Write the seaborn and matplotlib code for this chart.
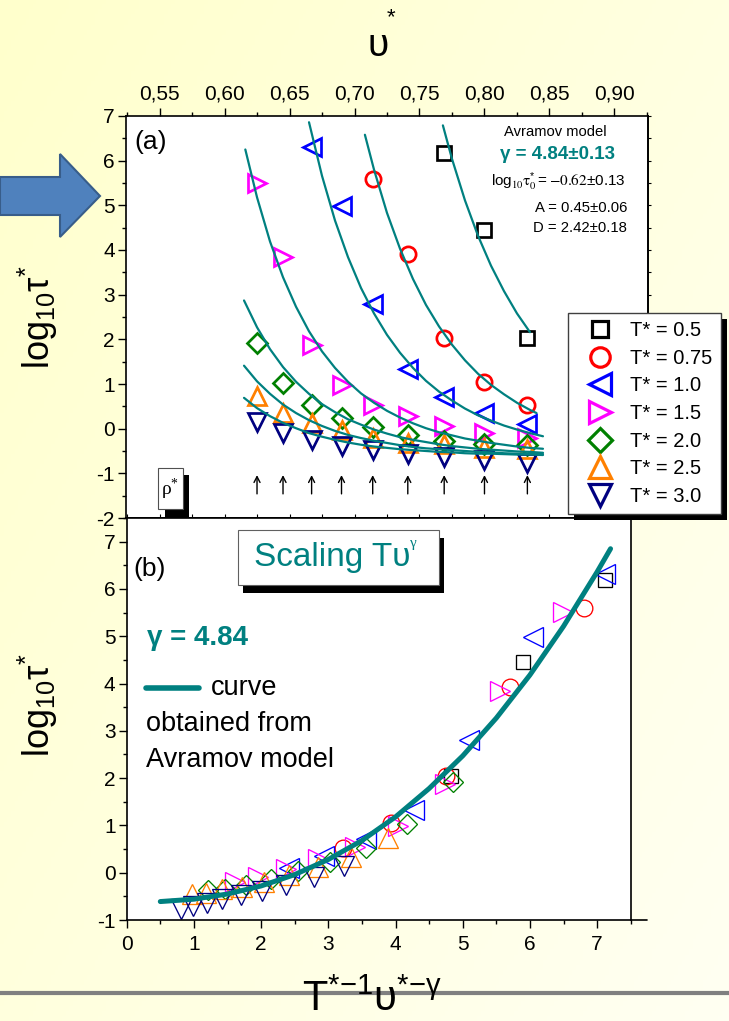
import numpy as np
import pandas as pd
import matplotlib
matplotlib.use("Agg")
import matplotlib.pyplot as plt
from matplotlib.lines import Line2D
from matplotlib.patches import Rectangle, Polygon
from matplotlib.ticker import MultipleLocator
import seaborn as sns

nan = np.nan

# ---------------- data ----------------
legend_labels = ["T* = 0.5", "T* = 0.75", "T* = 1.0", "T* = 1.5", "T* = 2.0", "T* = 2.5", "T* = 3.0"]
series_colors = ["#000000", "#FF0000", "#0000FF", "#FF00FF", "#008000", "#FF8000", "#000080"]
series_markers = ["s", "o", "<", ">", "D", "^", "v"]

# specific volume (top axis of panel a)
upsilon = [0.625, 0.645, 0.667, 0.690, 0.714, 0.741, 0.769, 0.800, 0.833]

# log10 tau* for each temperature (same values in both panels)
tau_T05 = [nan, nan, nan, nan, nan, nan, 6.18, 4.45, 2.04]
tau_T075 = [nan, nan, nan, nan, 5.60, 3.92, 2.04, 1.05, 0.52]
tau_T10 = [nan, nan, 6.31, 4.99, 2.80, 1.33, 0.71, 0.36, 0.10]
tau_T15 = [5.51, 3.84, 1.87, 0.98, 0.54, 0.28, 0.07, -0.09, -0.20]
tau_T20 = [1.92, 1.03, 0.53, 0.23, 0.04, -0.14, -0.27, -0.35, -0.37]
tau_T25 = [0.73, 0.34, 0.13, -0.04, -0.20, -0.31, -0.35, -0.43, -0.45]
tau_T30 = [0.15, -0.09, -0.25, -0.39, -0.48, -0.56, -0.64, -0.70, -0.76]

# scaling variable T*^-1 v*^-gamma (panel b x values)
scaled_T05 = [nan, nan, nan, nan, nan, nan, 7.12, 5.89, 4.83]
scaled_T075 = [nan, nan, nan, nan, 6.80, 5.70, 4.75, 3.93, 3.22]
scaled_T10 = [nan, nan, 7.12, 6.04, 5.10, 4.27, 3.56, 2.94, 2.42]
scaled_T15 = [6.49, 5.56, 4.74, 4.03, 3.40, 2.85, 2.37, 1.96, 1.61]
scaled_T20 = [4.86, 4.17, 3.56, 3.02, 2.55, 2.14, 1.78, 1.47, 1.21]
scaled_T25 = [3.89, 3.34, 2.85, 2.42, 2.04, 1.71, 1.42, 1.18, 0.97]
scaled_T30 = [3.24, 2.78, 2.37, 2.01, 1.70, 1.42, 1.19, 0.98, 0.81]

# Avramov model curves, panel (a)
fit_v_T05 = [0.768, 0.775, 0.785, 0.795, 0.805, 0.815, 0.825, 0.835]
fit_y_T05 = [6.79, 6.04, 5.11, 4.32, 3.65, 3.08, 2.58, 2.16]
fit_v_T075 = [0.708, 0.715, 0.725, 0.735, 0.745, 0.755, 0.765, 0.775, 0.785, 0.795,
              0.805, 0.815, 0.825, 0.835, 0.840]
fit_y_T075 = [6.58, 5.80, 4.83, 4.03, 3.35, 2.77, 2.29, 1.88, 1.53, 1.23,
              0.98, 0.77, 0.58, 0.42, 0.35]
fit_v_T10 = [0.665, 0.675, 0.685, 0.695, 0.705, 0.715, 0.725, 0.735, 0.745, 0.755,
             0.765, 0.775, 0.785, 0.795, 0.805, 0.815, 0.825, 0.835, 0.845]
fit_y_T10 = [6.86, 5.66, 4.66, 3.84, 3.15, 2.58, 2.10, 1.70, 1.36, 1.07,
             0.83, 0.63, 0.45, 0.30, 0.18, 0.07, -0.02, -0.10, -0.17]
fit_v_T15 = [0.616, 0.625, 0.635, 0.645, 0.655, 0.665, 0.675, 0.685, 0.695, 0.705,
             0.715, 0.725, 0.735, 0.745, 0.755, 0.765, 0.775, 0.785, 0.795, 0.805,
             0.815, 0.825, 0.835, 0.845]
fit_y_T15 = [6.25, 5.18, 4.19, 3.39, 2.73, 2.18, 1.73, 1.36, 1.05, 0.79,
             0.58, 0.40, 0.25, 0.12, 0.01, -0.08, -0.15, -0.22, -0.27, -0.32,
             -0.36, -0.40, -0.43, -0.45]
fit_v_low = [0.615, 0.625, 0.635, 0.645, 0.655, 0.665, 0.675, 0.685, 0.695, 0.705,
             0.715, 0.725, 0.735, 0.745, 0.755, 0.765, 0.775, 0.785, 0.795, 0.805,
             0.815, 0.825, 0.835, 0.845]
fit_y_T20 = [2.87, 2.27, 1.78, 1.38, 1.05, 0.78, 0.55, 0.37, 0.21, 0.09,
             -0.02, -0.11, -0.19, -0.25, -0.30, -0.35, -0.39, -0.42, -0.45, -0.47,
             -0.49, -0.51, -0.52, -0.54]
fit_y_T25 = [1.41, 1.06, 0.78, 0.54, 0.35, 0.19, 0.06, -0.05, -0.14, -0.21,
             -0.27, -0.32, -0.37, -0.41, -0.44, -0.46, -0.48, -0.50, -0.52, -0.53,
             -0.55, -0.56, -0.56, -0.57]
fit_y_T30 = [0.69, 0.46, 0.28, 0.13, 0.01, -0.10, -0.18, -0.25, -0.31, -0.36,
             -0.40, -0.43, -0.46, -0.48, -0.50, -0.52, -0.53, -0.55, -0.56, -0.56,
             -0.57, -0.58, -0.58, -0.59]

# master curve, panel (b)
master_x = [0.5, 1.0, 1.5, 2.0, 2.5, 3.0, 3.5, 4.0, 4.5, 5.0, 5.5, 6.0, 6.5, 7.0, 7.2]
master_y = [-0.61, -0.56, -0.45, -0.28, -0.04, 0.28, 0.68, 1.18, 1.78, 2.47, 3.27, 4.18, 5.21, 6.36, 6.85]

top_ticks = [0.55, 0.60, 0.65, 0.70, 0.75, 0.80, 0.85, 0.90]
top_tick_labels = ["0,55", "0,60", "0,65", "0,70", "0,75", "0,80", "0,85", "0,90"]

series_tau = [tau_T05, tau_T075, tau_T10, tau_T15, tau_T20, tau_T25, tau_T30]
series_scaled = [scaled_T05, scaled_T075, scaled_T10, scaled_T15, scaled_T20, scaled_T25, scaled_T30]
fit_v = [fit_v_T05, fit_v_T075, fit_v_T10, fit_v_T15, fit_v_low, fit_v_low, fit_v_low]
fit_y = [fit_y_T05, fit_y_T075, fit_y_T10, fit_y_T15, fit_y_T20, fit_y_T25, fit_y_T30]

# ---------------- style ----------------
sns.set_theme(style="ticks")
plt.rcParams["font.family"] = ["Liberation Sans", "DejaVu Sans"]
plt.rcParams["mathtext.default"] = "regular"
plt.rcParams["axes.unicode_minus"] = False
for k in ["axes.edgecolor", "xtick.color", "ytick.color", "text.color", "axes.labelcolor"]:
    plt.rcParams[k] = "black"

TEAL = "#008080"
W, H = 729, 1021


def fx(px):
    return px / W


def fy(py):
    return 1 - py / H


ms_a = {"s": 9.6, "o": 11.0, "<": 13.0, ">": 13.0, "D": 9.7, "^": 13.0, "v": 13.0}
ms_b = {"s": 9.8, "o": 12.0, "<": 14.5, ">": 14.5, "D": 9.8, "^": 14.0, "v": 14.0}
ms_leg = {"s": 12.0, "o": 14.0, "<": 16.5, ">": 16.5, "D": 12.2, "^": 16.5, "v": 16.5}

fig = plt.figure(figsize=(W / 100, H / 100), dpi=100)
fig.patch.set_facecolor("#FFFFD8")

# background gradient
bg = fig.add_axes([0, 0, 1, 1], zorder=-10)
gx, gy = np.meshgrid(np.linspace(0, 1, 200), np.linspace(0, 1, 200))
tt = 0.55 * gx + 0.45 * gy
c0 = np.array([1.0, 1.0, 0.80])
c1 = np.array([1.0, 1.0, 0.95])
img = c0[None, None, :] + tt[..., None] * (c1 - c0)[None, None, :]
bg.imshow(img, aspect="auto", extent=[0, 1, 0, 1], origin="upper")
bg.set_axis_off()

ax_a = fig.add_axes([fx(126), fy(518), (648 - 126) / W, (518 - 116) / H])
ax_b = fig.add_axes([fx(126.7), fy(920), (630.7 - 126.7) / W, (920 - 518) / H])
for ax in (ax_a, ax_b):
    ax.set_facecolor("white")
    for sp in ax.spines.values():
        sp.set_linewidth(1.2)
        sp.set_color("black")

# ---------------- panel (a) ----------------
for i in range(7):
    df = pd.DataFrame({"v": upsilon, "tau": series_tau[i]}).dropna()
    m = series_markers[i]
    sns.lineplot(data=df, x="v", y="tau", ax=ax_a, estimator=None, sort=False,
                 linestyle="none", marker=m, markersize=ms_a[m],
                 markerfacecolor="none", markeredgecolor=series_colors[i],
                 markeredgewidth=1.95, color=series_colors[i], zorder=2)
for i in range(7):
    dfc = pd.DataFrame({"v": fit_v[i], "y": fit_y[i]})
    sns.lineplot(data=dfc, x="v", y="y", ax=ax_a, estimator=None, sort=False,
                 color=TEAL, linewidth=1.6, zorder=3)

ax_a.set_xlim(0.5242, 0.9258)
ax_a.set_ylim(-2, 7)
ax_a.set_xlabel("")
ax_a.set_ylabel("")
ax_a.xaxis.set_ticks_position("top")
ax_a.set_xticks(top_ticks)
ax_a.set_xticklabels(top_tick_labels)
ax_a.xaxis.set_minor_locator(MultipleLocator(0.025))
ax_a.tick_params(axis="x", which="both", top=True, bottom=False, labeltop=True,
                 labelbottom=False, direction="out", labelsize=15, pad=3)
ax_a.yaxis.set_major_locator(MultipleLocator(1))
ax_a.yaxis.set_minor_locator(MultipleLocator(0.5))
ax_a.tick_params(axis="y", which="both", left=True, right=False, direction="out",
                 labelsize=15, pad=2)
ax_a.tick_params(which="major", length=6, width=1.0)
ax_a.tick_params(which="minor", length=3, width=1.0)

sec_x = ax_a.secondary_xaxis("bottom")
sec_x.xaxis.set_major_locator(MultipleLocator(0.025))
sec_x.tick_params(direction="in", length=3, width=0.8, labelbottom=False)
sec_y = ax_a.secondary_yaxis("right")
sec_y.yaxis.set_major_locator(MultipleLocator(0.5))
sec_y.tick_params(direction="out", length=2.5, width=0.8, labelright=False)

# arrows at the measured state points
for v in upsilon:
    ax_a.annotate("", xy=(v, -1.04), xytext=(v, -1.46),
                  arrowprops=dict(arrowstyle="->,head_length=0.35,head_width=0.18",
                                  color="black", lw=1.0, shrinkA=0, shrinkB=0))

ax_a.text(0.048, 0.935, "(a)", transform=ax_a.transAxes, ha="center", va="center", fontsize=19)
ax_a.text(0.8218, 0.960, "Avramov model", transform=ax_a.transAxes, ha="center",
          va="center", fontsize=10.6)
ax_a.text(0.8257, 0.903, "γ = 4.84±0.13", transform=ax_a.transAxes, ha="center",
          va="center", fontsize=13.5, fontweight="bold", color=TEAL)
ax_a.text(0.956, 0.836, r"log$_{\mathrm{10}}\mathrm{\tau}^{*}_{\mathrm{0}} = \mathrm{{-}0.62}$±0.13",
          transform=ax_a.transAxes, ha="right", va="center", fontsize=11,
          math_fontfamily="stix")
ax_a.text(0.960, 0.771, "A = 0.45±0.06", transform=ax_a.transAxes, ha="right",
          va="center", fontsize=10.7)
ax_a.text(0.960, 0.721, "D = 2.42±0.18", transform=ax_a.transAxes, ha="right",
          va="center", fontsize=10.7)

# rho* box with shadow
ax_a.add_patch(Rectangle((0.0619 + 0.0125, 0.0216 - 0.0187), 0.0467, 0.1035,
                         transform=ax_a.transAxes, facecolor="black", edgecolor="none", zorder=4))
ax_a.add_patch(Rectangle((0.0619, 0.0216), 0.0467, 0.1035, transform=ax_a.transAxes,
                         facecolor="white", edgecolor="#505050", linewidth=0.8, zorder=5))
ax_a.text(0.0852, 0.072, r"ρ$^{*}$", transform=ax_a.transAxes, ha="center", va="center",
          fontsize=14, family="Liberation Serif", zorder=6)

# legend
handles = [Line2D([], [], linestyle="none", marker=series_markers[i],
                  markersize=ms_leg[series_markers[i]], markerfacecolor="none",
                  markeredgecolor=series_colors[i], markeredgewidth=2.3)
           for i in range(7)]
leg = fig.legend(handles, legend_labels, loc="upper left",
                 bbox_to_anchor=(fx(568), fy(313)), bbox_transform=fig.transFigure,
                 frameon=True, fancybox=False, framealpha=1, edgecolor="#404040",
                 fontsize=14.5, borderpad=0.4, handlelength=2.4, handletextpad=0.3,
                 labelspacing=0.43, borderaxespad=0)
leg.get_frame().set_linewidth(1.0)

# ---------------- panel (b) ----------------
for i in range(7):
    df = pd.DataFrame({"x": series_scaled[i], "tau": series_tau[i]}).dropna()
    m = series_markers[i]
    sns.lineplot(data=df, x="x", y="tau", ax=ax_b, estimator=None, sort=False,
                 linestyle="none", marker=m, markersize=ms_b[m],
                 markerfacecolor="none", markeredgecolor=series_colors[i],
                 markeredgewidth=0.95, color=series_colors[i], zorder=2)
sns.lineplot(x=master_x, y=master_y, ax=ax_b, estimator=None, sort=False,
             color=TEAL, linewidth=3.6, zorder=3)

ax_b.set_xlim(0, 7.5)
ax_b.set_ylim(-1, 7.5)
ax_b.set_xlabel("")
ax_b.set_ylabel("")
ax_b.xaxis.set_major_locator(MultipleLocator(1))
ax_b.xaxis.set_minor_locator(MultipleLocator(0.5))
ax_b.yaxis.set_major_locator(MultipleLocator(1))
ax_b.yaxis.set_minor_locator(MultipleLocator(0.5))
ax_b.tick_params(which="both", direction="out", top=False, right=False, labelsize=15)
ax_b.tick_params(axis="y", pad=2)
ax_b.tick_params(axis="x", pad=5)
ax_b.tick_params(which="major", length=6, width=1.0)
ax_b.tick_params(which="minor", length=3, width=1.0)

ax_b.text(0.046, 0.873, "(b)", transform=ax_b.transAxes, ha="center", va="center", fontsize=19)
# Scaling box with shadow
ax_b.add_patch(Rectangle((0.2208 + 0.0099, 0.8333 - 0.0199), 0.3988, 0.1368,
                         transform=ax_b.transAxes, facecolor="black", edgecolor="none", zorder=4))
ax_b.add_patch(Rectangle((0.2208, 0.8333), 0.3988, 0.1368, transform=ax_b.transAxes,
                         facecolor="white", edgecolor="#606060", linewidth=0.8, zorder=5))
ax_b.text(0.407, 0.9017, "Scaling Tυ", transform=ax_b.transAxes, ha="center",
          va="center", fontsize=24, color=TEAL, zorder=6)
ax_b.text(0.568, 0.937, "γ", transform=ax_b.transAxes, ha="center",
          va="center", fontsize=11, color=TEAL, family="Liberation Serif", zorder=6)

ax_b.text(0.0403, 0.7015, "γ = 4.84", transform=ax_b.transAxes, ha="left", va="center",
          fontsize=20, fontweight="bold", color=TEAL)
ax_b.add_line(Line2D([0.0383, 0.1435], [0.577, 0.577], transform=ax_b.transAxes,
                     color=TEAL, linewidth=4))
ax_b.text(0.1677, 0.577, "curve", transform=ax_b.transAxes, ha="left", va="center", fontsize=19.5)
ax_b.text(0.0383, 0.4876, "obtained from", transform=ax_b.transAxes, ha="left", va="center",
          fontsize=19.5)
ax_b.text(0.0383, 0.398, "Avramov model", transform=ax_b.transAxes, ha="left", va="center",
          fontsize=19.5)

# ---------------- figure decorations ----------------
fig.add_artist(Line2D([fx(630.7), fx(647)], [fy(920), fy(920)], color="black", linewidth=1.2))
fig.add_artist(Line2D([0, 1], [fy(993), fy(993)], color="#808080", linewidth=3, zorder=2))
arrow_px = [(0, 177), (60, 177), (60, 154), (100, 196), (60, 237), (60, 215), (0, 215)]
fig.add_artist(Polygon([(fx(x), fy(y)) for x, y in arrow_px], closed=True,
                       transform=fig.transFigure, facecolor="#4F81BD",
                       edgecolor="#385D8A", linewidth=1.5, zorder=1))

fig.text(fx(38), fy(317), r"log$_{10}$τ$^{*}$", rotation=90, ha="center", va="center", fontsize=26)
fig.text(fx(38), fy(705), r"log$_{10}$τ$^{*}$", rotation=90, ha="center", va="center", fontsize=26)
fig.text(fx(378), fy(46), "υ", ha="center", va="center", fontsize=28)
fig.text(fx(391), fy(18), "*", ha="center", va="center", fontsize=16)
fig.text(fx(372), fy(1020), r"T$^{*{-}1}$υ$^{*{-}\gamma}$", ha="center", va="bottom",
         fontsize=30, zorder=3)

# legend shadow
fig.canvas.draw()
bb = leg.get_window_extent()
fig.add_artist(Rectangle(((bb.x0 + 6) / W, (bb.y0 - 6) / H), bb.width / W, bb.height / H,
                         transform=fig.transFigure, facecolor="black", edgecolor="none",
                         zorder=4.5))

fig.savefig("out.png", dpi=100, facecolor=fig.get_facecolor())
